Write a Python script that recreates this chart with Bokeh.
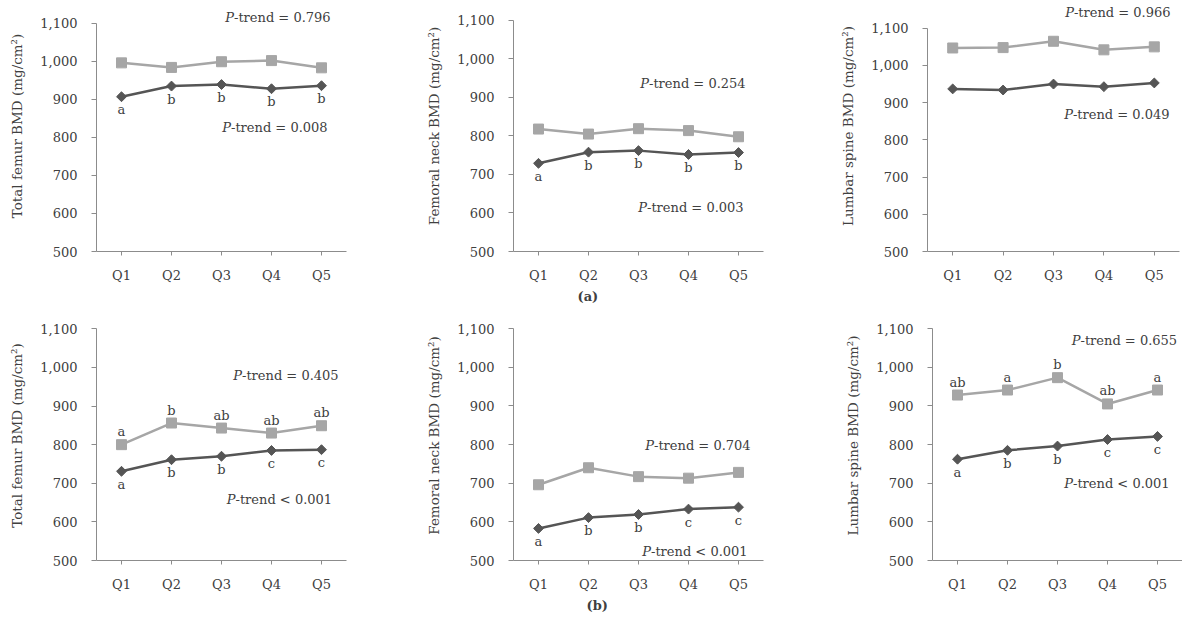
import math
from bokeh.plotting import figure
from bokeh.layouts import row, column
from bokeh.models import FactorRange, FixedTicker, NumeralTickFormatter, Title
from bokeh.core.properties import value
from bokeh.embed import file_html
from bokeh.resources import INLINE

# ---------------- data ----------------
quintiles = ["Q1", "Q2", "Q3", "Q4", "Q5"]
y_ticks = [500, 600, 700, 800, 900, 1000, 1100]

# (a) top row
total_femur_a_light = [996, 984, 999, 1002, 983]
total_femur_a_dark = [907, 935, 939, 928, 936]
femoral_neck_a_light = [818, 805, 819, 814, 798]
femoral_neck_a_dark = [729, 758, 762, 752, 757]
lumbar_spine_a_light = [1047, 1048, 1065, 1042, 1050]
lumbar_spine_a_dark = [937, 934, 950, 943, 953]

# (b) bottom row
total_femur_b_light = [800, 856, 843, 830, 849]
total_femur_b_dark = [731, 761, 770, 785, 787]
femoral_neck_b_light = [696, 740, 717, 713, 728]
femoral_neck_b_dark = [583, 611, 619, 633, 638]
lumbar_spine_b_light = [928, 941, 973, 905, 941]
lumbar_spine_b_dark = [762, 785, 796, 813, 821]

# significance letters
total_femur_a_dark_letters = ["a", "b", "b", "b", "b"]
femoral_neck_a_dark_letters = ["a", "b", "b", "b", "b"]
total_femur_b_light_letters = ["a", "b", "ab", "ab", "ab"]
total_femur_b_dark_letters = ["a", "b", "b", "c", "c"]
femoral_neck_b_dark_letters = ["a", "b", "b", "c", "c"]
lumbar_spine_b_light_letters = ["ab", "a", "b", "ab", "a"]
lumbar_spine_b_dark_letters = ["a", "b", "b", "c", "c"]

# P-trend texts
ptrend_light = ["= 0.796", "= 0.254", "= 0.966", "= 0.405", "= 0.704", "= 0.655"]
ptrend_dark = ["= 0.008", "= 0.003", "= 0.049", "< 0.001", "< 0.001", "< 0.001"]

y_labels = ["Total femur BMD (mg/cm\u00b2)", "Femoral neck BMD (mg/cm\u00b2)",
            "Lumbar spine BMD (mg/cm\u00b2)"]
captions = ["(a)", "(b)"]

# ---------------- style ----------------
FONT = "DejaVu Serif"
TXT = "#404040"
AXIS = "#8c8c8c"
LIGHT = "#a6a6a6"
DARK = "#555555"


def make_panel(ylabel, light, dark, light_letters, dark_letters, p_light, p_dark,
               width, height, bl, br, bb, y_end, pl_pos, pd_pos):
    p = figure(width=width, height=height, x_range=FactorRange(factors=quintiles, range_padding=0),
               y_range=(500, y_end), output_backend="svg", toolbar_location=None,
               min_border_left=bl, min_border_right=br, min_border_top=0, min_border_bottom=bb)
    p.outline_line_color = None
    p.background_fill_color = "white"
    p.border_fill_color = "white"
    p.xgrid.visible = False
    p.ygrid.visible = False

    ya = p.yaxis[0]
    ya.bounds = (500, 1100)
    ya.ticker = FixedTicker(ticks=y_ticks)
    ya.formatter = NumeralTickFormatter(format="0,0")
    ya.axis_label = ylabel
    ya.axis_label_text_font = FONT
    ya.axis_label_text_font_size = "13.5px"
    ya.axis_label_text_font_style = "normal"
    ya.axis_label_text_color = TXT
    ya.axis_label_standoff = 12
    ya.major_label_text_font = FONT
    ya.major_label_text_font_size = "13px"
    ya.major_label_text_color = TXT
    ya.major_label_standoff = 14
    ya.axis_line_color = AXIS
    ya.major_tick_line_color = AXIS
    ya.major_tick_out = 5
    ya.major_tick_in = 0
    ya.minor_tick_line_color = None

    xa = p.xaxis[0]
    xa.major_label_text_font = FONT
    xa.major_label_text_font_size = "13px"
    xa.major_label_text_color = TXT
    xa.major_label_standoff = 12
    xa.axis_line_color = AXIS
    xa.major_tick_line_color = AXIS
    xa.major_tick_out = 4
    xa.major_tick_in = 0

    p.line(quintiles, light, line_color=LIGHT, line_width=2.5)
    p.scatter(quintiles, light, marker="square", size=10, fill_color=LIGHT, line_color=LIGHT)
    p.line(quintiles, dark, line_color=DARK, line_width=2.5)
    p.scatter(quintiles, dark, marker="square", size=7, angle=math.pi / 4,
              fill_color=DARK, line_color=DARK)

    if light_letters:
        p.text(quintiles, light, text=light_letters, text_align="center",
               text_baseline="middle", y_offset=-13, text_font=value(FONT),
               text_font_size="13px", text_color=TXT)
    if dark_letters:
        p.text(quintiles, dark, text=dark_letters, text_align="center",
               text_baseline="middle", y_offset=13, text_font=value(FONT),
               text_font_size="13px", text_color=TXT)

    for (px, py), txt in ((pl_pos, p_light), (pd_pos, p_dark)):
        p.text([px], [py], text=["P"], text_align="right", text_baseline="middle",
               text_font=value(FONT), text_font_size="13px", text_font_style="italic",
               text_color=TXT)
        p.text([px], [py], text=["-trend " + txt], text_align="left", text_baseline="middle",
               text_font=value(FONT), text_font_size="13px", text_color=TXT)
    return p


def add_caption(p, text, offset):
    p.add_layout(Title(text=text, align="left", offset=offset, standoff=2,
                       text_font=FONT, text_font_size="13px", text_font_style="bold",
                       text_color=TXT), "below")


p1 = make_panel(y_labels[0], total_femur_a_light, total_femur_a_dark, None,
                total_femur_a_dark_letters, ptrend_light[0], ptrend_dark[0],
                390, 310, 96, 44, 57, 1160.0, (2.75, 1115.7), (2.69, 826.1))
p2 = make_panel(y_labels[1], femoral_neck_a_light, femoral_neck_a_dark, None,
                femoral_neck_a_dark_letters, ptrend_light[1], ptrend_dark[1],
                390, 310, 123, 17, 59, 1151.9, (2.71, 936.4), (2.67, 614.3))
p3 = make_panel(y_labels[2], lumbar_spine_a_light, lumbar_spine_a_dark, None, None,
                ptrend_light[2], ptrend_dark[2],
                402, 310, 147, 3, 54, 1174.6, (2.905, 1143.0), (2.885, 868.9))
p4 = make_panel(y_labels[0], total_femur_b_light, total_femur_b_dark,
                total_femur_b_light_letters, total_femur_b_dark_letters,
                ptrend_light[3], ptrend_dark[3],
                390, 315, 96, 44, 65, 1147.4, (2.91, 979.0), (2.78, 657.9))
p5 = make_panel(y_labels[1], femoral_neck_b_light, femoral_neck_b_dark, None,
                femoral_neck_b_dark_letters, ptrend_light[4], ptrend_dark[4],
                390, 315, 123, 17, 63, 1146.9, (2.81, 796.4), (2.75, 523.1))
p6 = make_panel(y_labels[2], lumbar_spine_b_light, lumbar_spine_b_dark,
                lumbar_spine_b_light_letters, lumbar_spine_b_dark_letters,
                ptrend_light[5], ptrend_dark[5],
                402, 315, 152, 0, 62, 1146.7, (2.96, 1070.0), (2.81, 698.0))

add_caption(p2, captions[0], 64)
add_caption(p5, captions[1], 73)

layout = column(row(p1, p2, p3, spacing=0), row(p4, p5, p6, spacing=0), spacing=0)
open("out.html", "w").write(file_html(layout, INLINE))
